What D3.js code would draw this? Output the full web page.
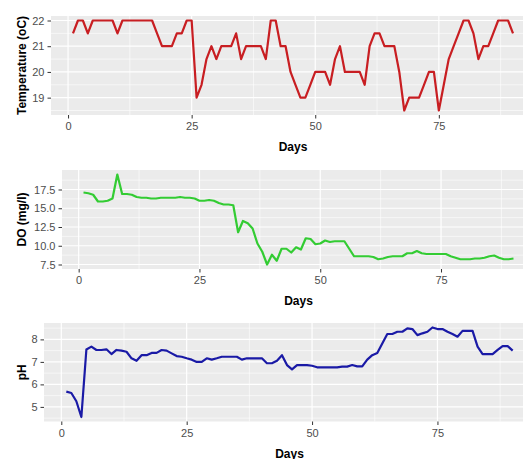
<!DOCTYPE html>
<html>
<head>
<meta charset="utf-8">
<script src="https://cdn.jsdelivr.net/npm/d3@7"></script>
<style>
  body { margin: 0; background: #fff; }
  svg { display: block; font-family: "Liberation Sans", Arial, sans-serif; }
  .tick-label { fill: #4d4d4d; font-size: 11px; }
  .title { fill: #000; font-size: 12px; font-weight: bold; }
</style>
</head>
<body>
<div class="chart"></div>
<script>
const days = [1,2,3,4,5,6,7,8,9,10,11,12,13,14,15,16,17,18,19,20,
  21,22,23,24,25,26,27,28,29,30,31,32,33,34,35,36,37,38,39,40,
  41,42,43,44,45,46,47,48,49,50,51,52,53,54,55,56,57,58,59,60,
  61,62,63,64,65,66,67,68,69,70,71,72,73,74,75,76,77,78,79,80,
  81,82,83,84,85,86,87,88,89,90];

const temperature = [21.5,22,22,21.5,22,22,22,22,22,21.5,
  22,22,22,22,22,22,22,21.5,21,21,
  21,21.5,21.5,22,22,19,19.5,20.5,21,20.5,
  21,21,21,21.5,20.5,21,21,21,21,20.5,
  22,22,21,21,20,19.5,19,19,19.5,20,
  20,20,19.5,20.5,21,20,20,20,20,19.5,
  21,21.5,21.5,21,21,21,20,18.5,19,19,
  19,19.5,20,20,18.5,19.5,20.5,21,21.5,22,
  22,21.5,20.5,21,21,21.5,22,22,22,21.5];

const dissolvedO2 = [17.1,17.0,16.8,15.9,15.9,16.0,16.3,19.5,16.9,16.9,
  16.8,16.5,16.4,16.4,16.3,16.3,16.4,16.4,16.4,16.4,
  16.5,16.4,16.4,16.3,16.0,16.0,16.1,16.0,15.7,15.5,
  15.5,15.4,11.8,13.3,13.0,12.3,10.3,9.2,7.5,8.8,
  8.0,9.6,9.6,9.1,9.8,9.5,11.0,10.9,10.2,10.3,
  10.7,10.5,10.6,10.6,10.6,9.6,8.6,8.6,8.6,8.6,
  8.5,8.2,8.3,8.5,8.6,8.6,8.6,9.0,9.0,9.3,
  9.0,8.9,8.9,8.9,8.9,8.9,8.6,8.4,8.2,8.2,
  8.2,8.3,8.3,8.4,8.6,8.7,8.4,8.2,8.2,8.3];

const pH = [5.68,5.62,5.25,4.55,7.55,7.68,7.53,7.53,7.56,7.35,
  7.53,7.5,7.45,7.16,7.05,7.3,7.3,7.4,7.4,7.53,
  7.5,7.38,7.26,7.23,7.16,7.1,7.0,7.0,7.16,7.1,
  7.16,7.23,7.23,7.23,7.23,7.1,7.16,7.16,7.16,7.16,
  6.94,6.94,7.05,7.3,6.86,6.67,6.86,6.86,6.86,6.83,
  6.76,6.76,6.76,6.76,6.76,6.79,6.79,6.86,6.8,6.8,
  7.1,7.3,7.4,7.82,8.24,8.24,8.34,8.34,8.49,8.46,
  8.19,8.27,8.34,8.53,8.46,8.46,8.34,8.24,8.12,8.38,
  8.38,8.38,7.68,7.35,7.35,7.35,7.53,7.7,7.7,7.5];

const xTicks = [0, 25, 50, 75];
const xMinor = [12.5, 37.5, 62.5, 87.5];

const panels = [
  { values: temperature, yLabel: 'Temperature (oC)', color: '#c81e22',
    yTicks: [19, 20, 21, 22], yMinor: [18.5, 19.5, 20.5, 21.5], fmt: d3.format('d'),
    left: 51, top: 16, bottom: 115 },
  { values: dissolvedO2, yLabel: 'DO (mg/l)', color: '#33cc33',
    yTicks: [7.5, 10, 12.5, 15, 17.5], yMinor: [8.75, 11.25, 13.75, 16.25, 18.75], fmt: d3.format('.1f'),
    left: 62, top: 170, bottom: 269 },
  { values: pH, yLabel: 'pH', color: '#1a1aa6',
    yTicks: [5, 6, 7, 8], yMinor: [4.5, 5.5, 6.5, 7.5, 8.5], fmt: d3.format('d'),
    left: 44, top: 323, bottom: 421.5 }
];

const W = 523, H = 459, right = 535;

const svg = d3.select('.chart')
              .append('svg')
              .attr('width', W)
              .attr('height', H);

svg.append('rect').attr('width', W).attr('height', H).attr('fill', '#fff');

// ggplot-style 5% expansion of the data range
const expand = (ext) => {
  const pad = (ext[1] - ext[0]) * 0.05;
  return [ext[0] - pad, ext[1] + pad];
};

panels.forEach((p) => {
  const x = d3.scaleLinear()
              .domain(expand(d3.extent(days)))
              .range([p.left, right]);
  const y = d3.scaleLinear()
              .domain(expand(d3.extent(p.values)))
              .range([p.bottom, p.top]);

  const g = svg.append('g');

  g.append('rect')
   .attr('x', p.left)
   .attr('y', p.top)
   .attr('width', right - p.left)
   .attr('height', p.bottom - p.top)
   .attr('fill', '#ebebeb');

  // minor grid
  g.selectAll('.hmin').data(p.yMinor.filter(v => y(v) >= p.top && y(v) <= p.bottom))
   .enter().append('line')
   .attr('x1', p.left).attr('x2', right)
   .attr('y1', d => y(d)).attr('y2', d => y(d))
   .attr('stroke', '#fff').attr('stroke-width', 0.6);
  g.selectAll('.vmin').data(xMinor)
   .enter().append('line')
   .attr('x1', d => x(d)).attr('x2', d => x(d))
   .attr('y1', p.top).attr('y2', p.bottom)
   .attr('stroke', '#fff').attr('stroke-width', 0.6);

  // major grid
  g.selectAll('.hmaj').data(p.yTicks)
   .enter().append('line')
   .attr('x1', p.left).attr('x2', right)
   .attr('y1', d => y(d)).attr('y2', d => y(d))
   .attr('stroke', '#fff').attr('stroke-width', 1.2);
  g.selectAll('.vmaj').data(xTicks)
   .enter().append('line')
   .attr('x1', d => x(d)).attr('x2', d => x(d))
   .attr('y1', p.top).attr('y2', p.bottom)
   .attr('stroke', '#fff').attr('stroke-width', 1.2);

  // data line
  const line = d3.line()
                 .x((d, i) => x(days[i]))
                 .y(d => y(d));
  g.append('path')
   .datum(p.values)
   .attr('d', line)
   .attr('fill', 'none')
   .attr('stroke', p.color)
   .attr('stroke-width', 2.2)
   .attr('stroke-linejoin', 'round');

  // axes
  const xAxis = d3.axisBottom(x).tickValues(xTicks).tickSize(3.5).tickPadding(4);
  const yAxis = d3.axisLeft(y).tickValues(p.yTicks).tickFormat(p.fmt).tickSize(3.5).tickPadding(3);

  const gx = g.append('g')
              .attr('transform', `translate(0,${p.bottom})`)
              .call(xAxis);
  const gy = g.append('g')
              .attr('transform', `translate(${p.left},0)`)
              .call(yAxis);

  [gx, gy].forEach(a => {
    a.select('.domain').remove();
    a.selectAll('line').attr('stroke', '#333').attr('stroke-width', 1);
    a.selectAll('text').attr('class', 'tick-label').attr('fill', '#4d4d4d')
     .style('font-size', '11px');
  });

  g.append('text')
   .attr('class', 'title')
   .attr('x', (p.left + right) / 2)
   .attr('y', p.bottom + 36)
   .attr('text-anchor', 'middle')
   .text('Days');

  g.append('text')
   .attr('class', 'title')
   .attr('transform', `translate(26,${(p.top + p.bottom) / 2}) rotate(-90)`)
   .attr('text-anchor', 'middle')
   .text(p.yLabel);
});
</script>
</body>
</html>
